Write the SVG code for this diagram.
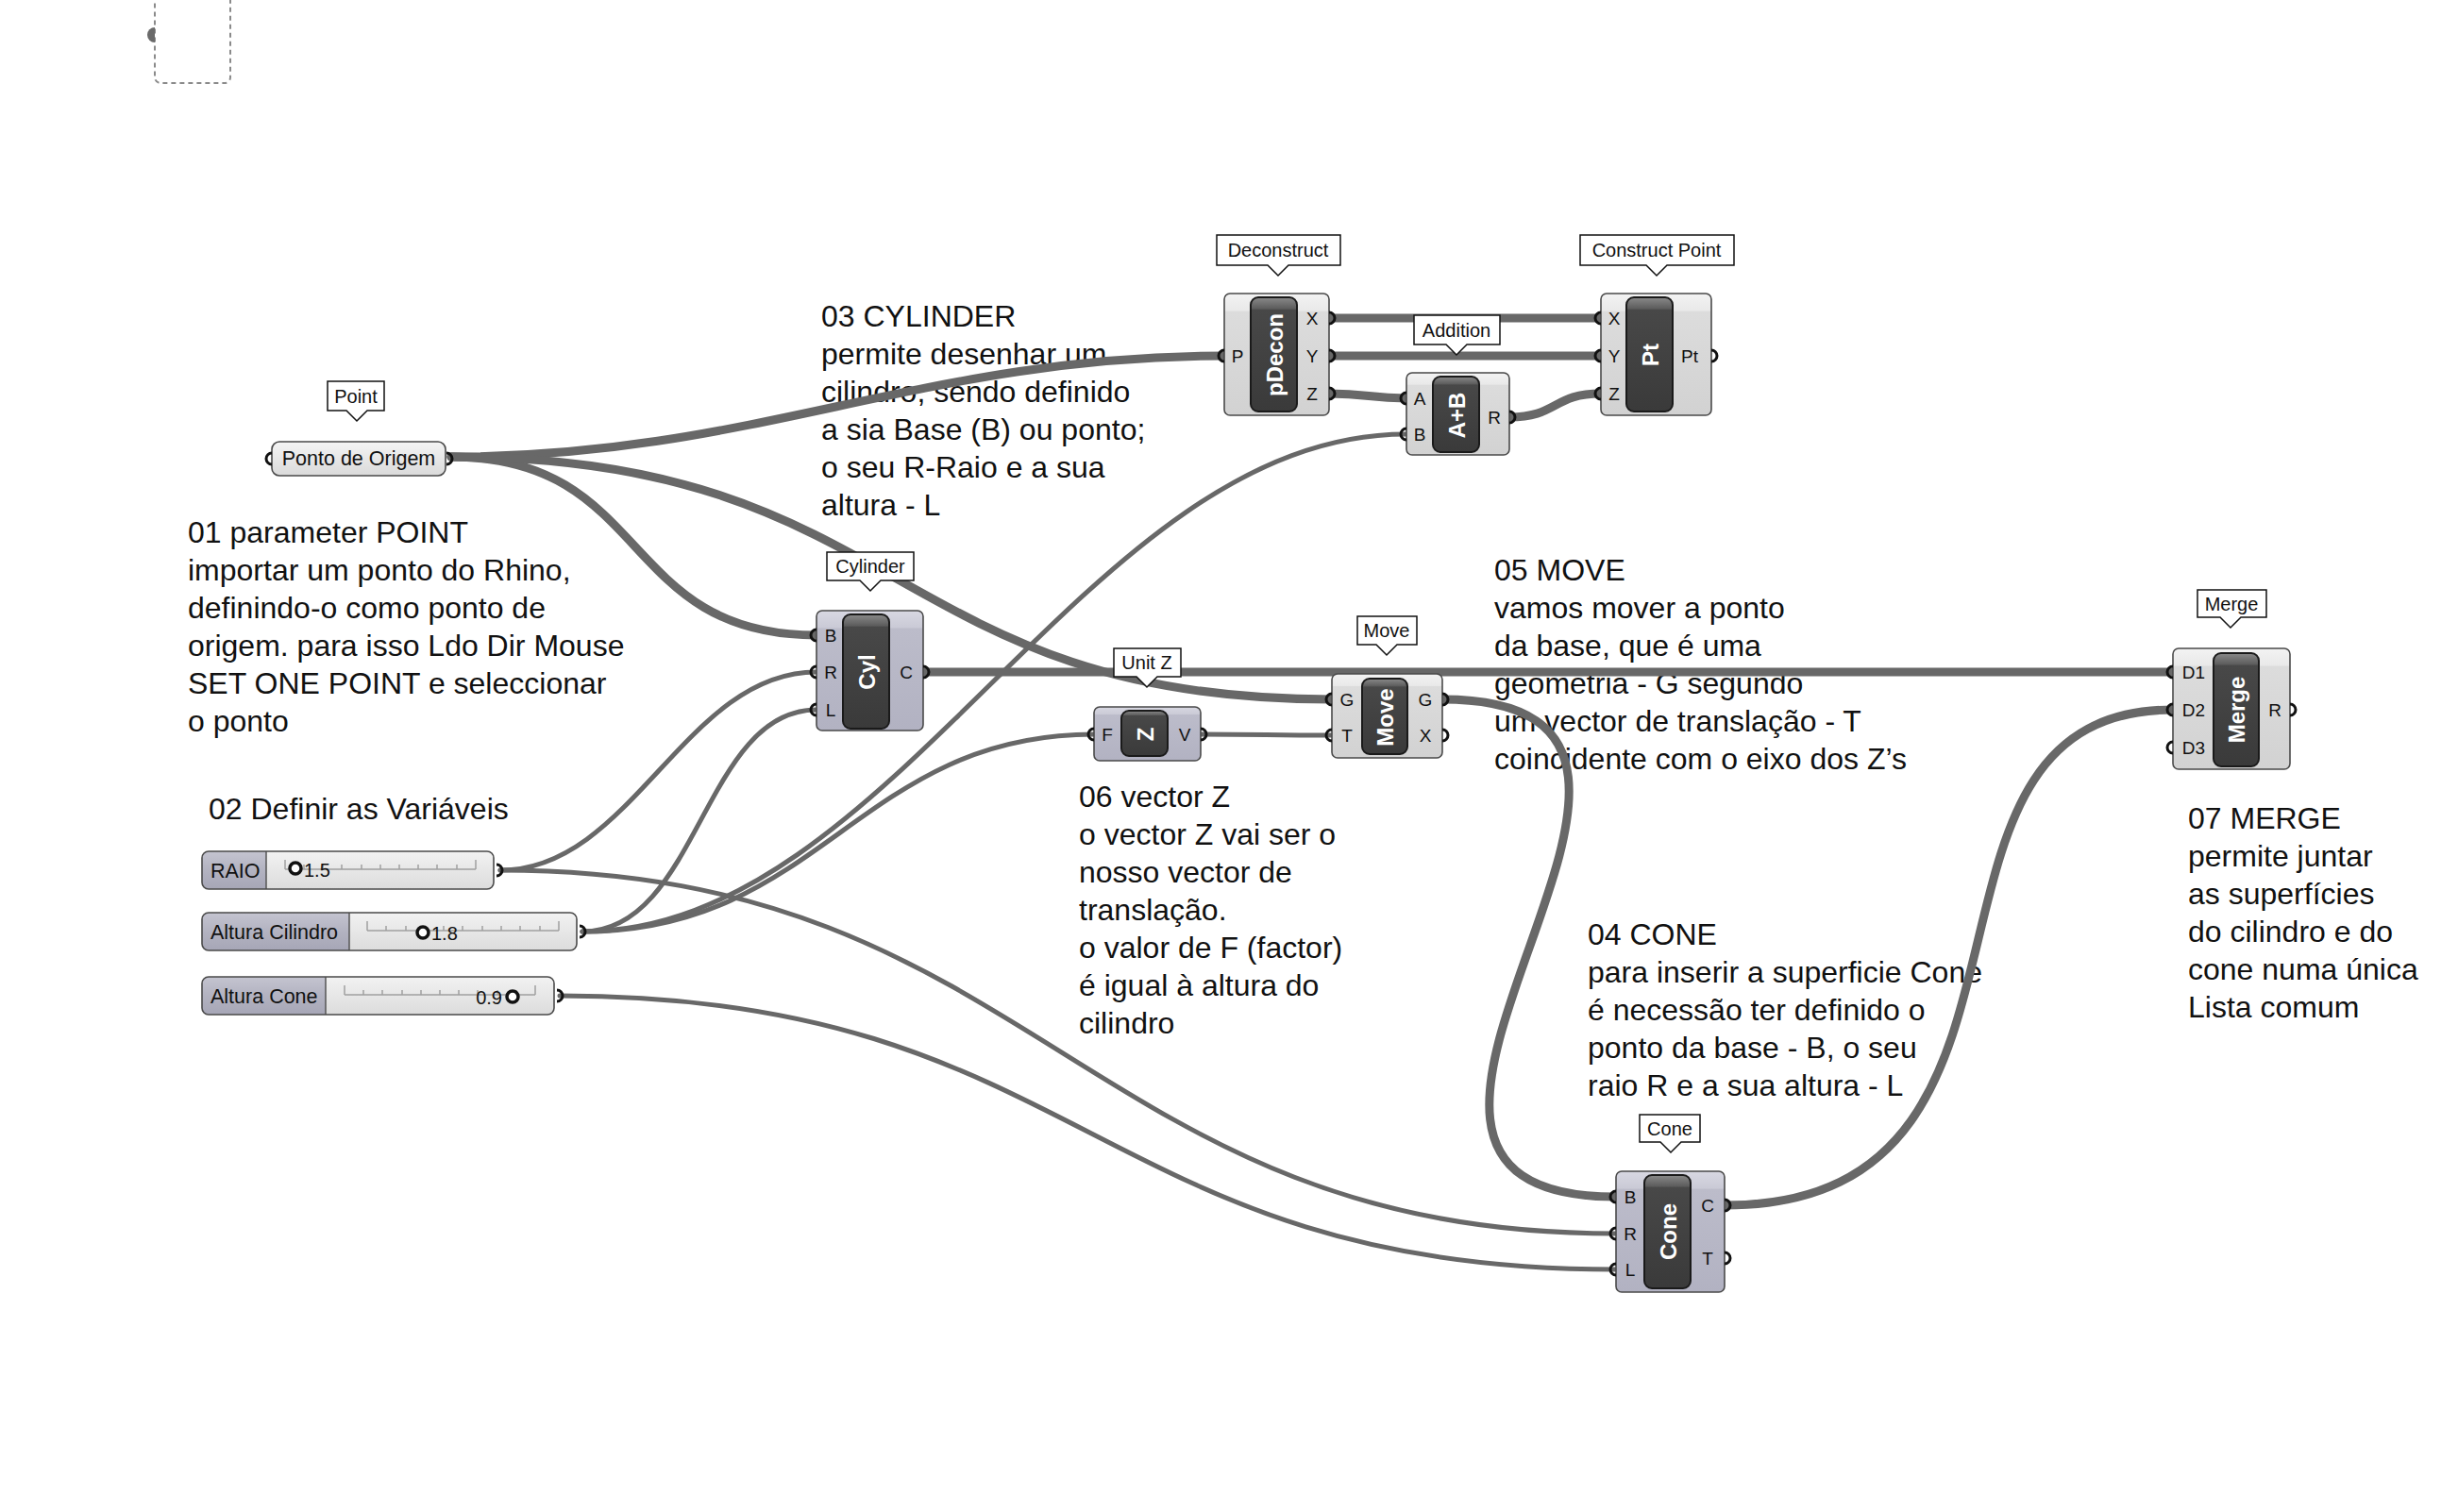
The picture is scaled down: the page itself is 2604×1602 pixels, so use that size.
<svg xmlns="http://www.w3.org/2000/svg" width="2604" height="1602" viewBox="0 0 2604 1602">
<defs>
<linearGradient id="gGrey" x1="0" y1="0" x2="0" y2="1">
<stop offset="0" stop-color="#f3f3f3"/><stop offset="0.14" stop-color="#e9e9e9"/><stop offset="0.15" stop-color="#dcdcdc"/><stop offset="1" stop-color="#d2d2d2"/>
</linearGradient>
<linearGradient id="gLav" x1="0" y1="0" x2="0" y2="1">
<stop offset="0" stop-color="#d8d8e2"/><stop offset="0.14" stop-color="#cacad6"/><stop offset="0.15" stop-color="#bcbcca"/><stop offset="1" stop-color="#b2b2c2"/>
</linearGradient>
<linearGradient id="gPill" x1="0" y1="0" x2="0" y2="1">
<stop offset="0" stop-color="#8a8a8a"/><stop offset="0.1" stop-color="#5c5c5c"/><stop offset="0.11" stop-color="#484848"/><stop offset="1" stop-color="#3a3a3a"/>
</linearGradient>
<linearGradient id="gParam" x1="0" y1="0" x2="0" y2="1">
<stop offset="0" stop-color="#f4f4f4"/><stop offset="1" stop-color="#dadada"/>
</linearGradient>
<linearGradient id="gSlLab" x1="0" y1="0" x2="0" y2="1">
<stop offset="0" stop-color="#c4c4d0"/><stop offset="0.45" stop-color="#b4b4c2"/><stop offset="1" stop-color="#a6a6b6"/>
</linearGradient>
<linearGradient id="gSlVal" x1="0" y1="0" x2="0" y2="1">
<stop offset="0" stop-color="#f2f2f2"/><stop offset="0.45" stop-color="#e8e8e8"/><stop offset="1" stop-color="#dcdcdc"/>
</linearGradient>
</defs>
<style>
.wire{fill:none;stroke:#686868;stroke-linecap:round}
.thick{stroke-width:9}
.thin{stroke-width:5}
.box{stroke:#4a4a4a;stroke-width:1.6}
.grey{fill:url(#gGrey)}
.lav{fill:url(#gLav)}
.pill{fill:url(#gPill);stroke:#1a1a1a;stroke-width:2}
.pt{font-family:"Liberation Sans",Arial,sans-serif;font-weight:bold;font-size:24px;fill:#fff;text-anchor:middle;dominant-baseline:central}
.port{font-family:"Liberation Sans",Arial,sans-serif;font-size:19px;fill:#111;text-anchor:middle;dominant-baseline:central}
.grip{fill:none;stroke:#111;stroke-width:3}
.tag{fill:#fff;stroke:#111;stroke-width:1.5}
.tagt{font-family:"Liberation Sans",Arial,sans-serif;font-size:20px;fill:#111;text-anchor:middle;dominant-baseline:central}
.note{font-family:"Liberation Sans",Arial,sans-serif;font-size:32px;fill:#111}
.sl{font-family:"Liberation Sans",Arial,sans-serif;font-size:20px;fill:#111}
.sll{font-family:"Liberation Sans",Arial,sans-serif;font-size:21.5px;fill:#111}
.track{stroke:#a0a0a0;stroke-width:1.5;fill:none}
.knob{fill:#fff;stroke:#111;stroke-width:3.5}
</style>

<rect width="2604" height="1602" fill="#ffffff"/>

<g id="empty-group">
<rect x="164" y="-20" width="80" height="108" rx="6" fill="none" stroke="#8a8a8a" stroke-width="2" stroke-dasharray="5 4"/>
<path d="M164,29 A8,8 0 0 0 164,45 Z" fill="#6a6a6a"/>
</g>

<g id="notes">
<text class="note" x="199" y="575">
<tspan x="199" y="575">01 parameter POINT</tspan>
<tspan x="199" y="615">importar um ponto do Rhino,</tspan>
<tspan x="199" y="655">definindo-o como ponto de</tspan>
<tspan x="199" y="695">origem. para isso Ldo Dir Mouse</tspan>
<tspan x="199" y="735">SET ONE POINT e seleccionar</tspan>
<tspan x="199" y="775">o ponto</tspan>
</text>
<text class="note" x="221" y="868">02 Definir as Variáveis</text>
<text class="note" x="870" y="346">
<tspan x="870" y="346">03 CYLINDER</tspan>
<tspan x="870" y="386">permite desenhar um</tspan>
<tspan x="870" y="426">cilindro, sendo definido</tspan>
<tspan x="870" y="466">a sia Base (B) ou ponto;</tspan>
<tspan x="870" y="506">o seu R-Raio e a sua</tspan>
<tspan x="870" y="546">altura - L</tspan>
</text>
<text class="note" x="1583" y="615">
<tspan x="1583" y="615">05 MOVE</tspan>
<tspan x="1583" y="655">vamos mover a ponto</tspan>
<tspan x="1583" y="695">da base, que é uma</tspan>
<tspan x="1583" y="735">geometria - G segundo</tspan>
<tspan x="1583" y="775">um vector de translação - T</tspan>
<tspan x="1583" y="815">coincidente com o eixo dos Z’s</tspan>
</text>
<text class="note" x="1143" y="855">
<tspan x="1143" y="855">06 vector Z</tspan>
<tspan x="1143" y="895">o vector Z vai ser o</tspan>
<tspan x="1143" y="935">nosso vector de</tspan>
<tspan x="1143" y="975">translação.</tspan>
<tspan x="1143" y="1015">o valor de F (factor)</tspan>
<tspan x="1143" y="1055">é igual à altura do</tspan>
<tspan x="1143" y="1095">cilindro</tspan>
</text>
<text class="note" x="1682" y="1001">
<tspan x="1682" y="1001">04 CONE</tspan>
<tspan x="1682" y="1041">para inserir a superficie Cone</tspan>
<tspan x="1682" y="1081">é necessão ter definido o</tspan>
<tspan x="1682" y="1121">ponto da base - B, o seu</tspan>
<tspan x="1682" y="1161">raio R e a sua altura - L</tspan>
</text>
<text class="note" x="2318" y="878">
<tspan x="2318" y="878">07 MERGE</tspan>
<tspan x="2318" y="918">permite juntar</tspan>
<tspan x="2318" y="958">as superfícies</tspan>
<tspan x="2318" y="998">do cilindro e do</tspan>
<tspan x="2318" y="1038">cone numa única</tspan>
<tspan x="2318" y="1078">Lista comum</tspan>
</text>
</g>

<g id="connectors">
<path class="wire thick" d="M478,484 C800,484 975,377 1297,377"/>
<path class="wire thick" d="M478,484 C690,484 655,673 865,673"/>
<path class="wire thick" d="M478,484 C960,484 940,741 1411,741"/>
<path class="wire thick" d="M1408,337 L1696,337"/>
<path class="wire thick" d="M1408,377 L1696,377"/>
<path class="wire thick" d="M1408,417 C1450,417 1450,422 1490,422"/>
<path class="wire thick" d="M1599,442 C1650,442 1645,417 1696,417"/>
<path class="wire thin" d="M617,987 C950,987 1150,460 1490,460"/>
<path class="wire thin" d="M530,922 C670,922 725,712 865,712"/>
<path class="wire thin" d="M617,987 C740,987 745,752 865,752"/>
<path class="wire thin" d="M617,987 C870,987 910,778 1159,778"/>
<path class="wire thick" d="M978,712 L2302,712"/>
<path class="wire thin" d="M1272,778 C1340,778 1343,779 1411,779"/>
<path class="wire thick" d="M1528,741 C1900,741 1340,1268 1712,1268"/>
<path class="wire thick" d="M1827,1277 C2210,1277 1990,752 2302,752"/>
<path class="wire thin" d="M530,922 C1100,922 1150,1307 1712,1307"/>
<path class="wire thin" d="M593,1055 C1150,1055 1160,1345 1712,1345"/>
</g>

<g id="node-point">
<path class="tag" d="M347,404 H407 V435 H389 L378,446 L367,435 H347 Z"/>
<text class="tagt" x="377" y="420">Point</text>
<rect x="288" y="468" width="184" height="36" rx="8" fill="url(#gParam)" stroke="#4a4a4a" stroke-width="1.6"/>
<text class="tagt" x="380" y="486" style="font-size:21.5px">Ponto de Origem</text>
<path class="grip" d="M288,480 A6,6 0 0 0 288,492"/>
<path class="grip" d="M473,480 A6,6 0 0 1 473,492"/>
</g>

<g id="node-deconstruct">
<path class="tag" d="M1289,249 H1420 V281 H1365 L1354,292 L1343,281 H1289 Z"/>
<text class="tagt" x="1354" y="265">Deconstruct</text>
<rect class="box grey" x="1297" y="311" width="111" height="129" rx="6"/>
<rect class="pill" x="1325" y="315" width="49" height="121" rx="8"/>
<text class="pt" transform="translate(1350,376) rotate(-90)">pDecon</text>
<text class="port" x="1311" y="377">P</text>
<text class="port" x="1390" y="337">X</text>
<text class="port" x="1390" y="377">Y</text>
<text class="port" x="1390" y="417">Z</text>
<path class="grip" d="M1297,371 A6,6 0 0 0 1297,383"/>
<path class="grip" d="M1408,331 A6,6 0 0 1 1408,343"/>
<path class="grip" d="M1408,371 A6,6 0 0 1 1408,383"/>
<path class="grip" d="M1408,411 A6,6 0 0 1 1408,423"/>
</g>

<g id="node-construct-point">
<path class="tag" d="M1674,249 H1837 V281 H1766 L1755,292 L1744,281 H1674 Z"/>
<text class="tagt" x="1755" y="265">Construct Point</text>
<rect class="box grey" x="1696" y="311" width="117" height="129" rx="6"/>
<rect class="pill" x="1723" y="315" width="49" height="121" rx="8"/>
<text class="pt" transform="translate(1748,376) rotate(-90)">Pt</text>
<text class="port" x="1710" y="337">X</text>
<text class="port" x="1710" y="377">Y</text>
<text class="port" x="1710" y="417">Z</text>
<text class="port" x="1790" y="377">Pt</text>
<path class="grip" d="M1696,331 A6,6 0 0 0 1696,343"/>
<path class="grip" d="M1696,371 A6,6 0 0 0 1696,383"/>
<path class="grip" d="M1696,411 A6,6 0 0 0 1696,423"/>
<path class="grip" d="M1813,371 A6,6 0 0 1 1813,383"/>
</g>

<g id="node-addition">
<path class="tag" d="M1498,334 H1589 V365 H1554 L1543,376 L1532,365 H1498 Z"/>
<text class="tagt" x="1543" y="350">Addition</text>
<rect class="box grey" x="1490" y="395" width="109" height="87" rx="6"/>
<rect class="pill" x="1518" y="399" width="49" height="80" rx="8"/>
<text class="pt" transform="translate(1543,440) rotate(-90)">A+B</text>
<text class="port" x="1504" y="422">A</text>
<text class="port" x="1504" y="460">B</text>
<text class="port" x="1583" y="442">R</text>
<path class="grip" d="M1490,416 A6,6 0 0 0 1490,428"/>
<path class="grip" d="M1490,454 A6,6 0 0 0 1490,466"/>
<path class="grip" d="M1599,436 A6,6 0 0 1 1599,448"/>
</g>

<g id="node-cylinder">
<path class="tag" d="M876,585 H968 V615 H933 L922,626 L911,615 H876 Z"/>
<text class="tagt" x="922" y="600">Cylinder</text>
<rect class="box lav" x="865" y="647" width="113" height="127" rx="6"/>
<rect class="pill" x="893" y="651" width="49" height="121" rx="8"/>
<text class="pt" transform="translate(918,712) rotate(-90)">Cyl</text>
<text class="port" x="880" y="673">B</text>
<text class="port" x="880" y="712">R</text>
<text class="port" x="880" y="752">L</text>
<text class="port" x="960" y="712">C</text>
<path class="grip" d="M865,667 A6,6 0 0 0 865,679"/>
<path class="grip" d="M865,706 A6,6 0 0 0 865,718"/>
<path class="grip" d="M865,746 A6,6 0 0 0 865,758"/>
<path class="grip" d="M978,706 A6,6 0 0 1 978,718"/>
</g>

<g id="node-unit-z">
<path class="tag" d="M1180,687 H1251 V717 H1226 L1215,728 L1204,717 H1180 Z"/>
<text class="tagt" x="1215" y="702">Unit Z</text>
<rect class="box lav" x="1159" y="749" width="113" height="57" rx="6"/>
<rect class="pill" x="1188" y="753" width="49" height="48" rx="8"/>
<text class="pt" transform="translate(1213,778) rotate(-90)">Z</text>
<text class="port" x="1173" y="778">F</text>
<text class="port" x="1255" y="778">V</text>
<path class="grip" d="M1159,772 A6,6 0 0 0 1159,784"/>
<path class="grip" d="M1272,772 A6,6 0 0 1 1272,784"/>
</g>

<g id="node-move">
<path class="tag" d="M1438,653 H1501 V683 H1480 L1469,694 L1458,683 H1438 Z"/>
<text class="tagt" x="1469" y="668">Move</text>
<rect class="box grey" x="1411" y="714" width="117" height="89" rx="6"/>
<rect class="pill" x="1443" y="719" width="48" height="80" rx="8"/>
<text class="pt" transform="translate(1467,760) rotate(-90)">Move</text>
<text class="port" x="1427" y="741">G</text>
<text class="port" x="1427" y="779">T</text>
<text class="port" x="1510" y="741">G</text>
<text class="port" x="1510" y="779">X</text>
<path class="grip" d="M1411,735 A6,6 0 0 0 1411,747"/>
<path class="grip" d="M1411,773 A6,6 0 0 0 1411,785"/>
<path class="grip" d="M1528,735 A6,6 0 0 1 1528,747"/>
<path class="grip" d="M1528,773 A6,6 0 0 1 1528,785"/>
</g>

<g id="node-merge">
<path class="tag" d="M2328,625 H2401 V654 H2374 L2363,665 L2352,654 H2328 Z"/>
<text class="tagt" x="2364" y="640">Merge</text>
<rect class="box grey" x="2302" y="687" width="124" height="128" rx="6"/>
<rect class="pill" x="2345" y="692" width="48" height="120" rx="8"/>
<text class="pt" transform="translate(2369,752) rotate(-90)">Merge</text>
<text class="port" x="2324" y="712">D1</text>
<text class="port" x="2324" y="752">D2</text>
<text class="port" x="2324" y="792">D3</text>
<text class="port" x="2410" y="752">R</text>
<path class="grip" d="M2302,706 A6,6 0 0 0 2302,718"/>
<path class="grip" d="M2302,746 A6,6 0 0 0 2302,758"/>
<path class="grip" d="M2302,786 A6,6 0 0 0 2302,798"/>
<path class="grip" d="M2426,746 A6,6 0 0 1 2426,758"/>
</g>

<g id="node-cone">
<path class="tag" d="M1737,1181 H1801 V1210 H1781 L1770,1221 L1759,1210 H1737 Z"/>
<text class="tagt" x="1769" y="1196">Cone</text>
<rect class="box lav" x="1712" y="1241" width="115" height="128" rx="6"/>
<rect class="pill" x="1742" y="1245" width="49" height="120" rx="8"/>
<text class="pt" transform="translate(1767,1305) rotate(-90)">Cone</text>
<text class="port" x="1727" y="1268">B</text>
<text class="port" x="1727" y="1307">R</text>
<text class="port" x="1727" y="1345">L</text>
<text class="port" x="1809" y="1277">C</text>
<text class="port" x="1809" y="1333">T</text>
<path class="grip" d="M1712,1262 A6,6 0 0 0 1712,1274"/>
<path class="grip" d="M1712,1301 A6,6 0 0 0 1712,1313"/>
<path class="grip" d="M1712,1339 A6,6 0 0 0 1712,1351"/>
<path class="grip" d="M1827,1271 A6,6 0 0 1 1827,1283"/>
<path class="grip" d="M1827,1327 A6,6 0 0 1 1827,1339"/>
</g>

<g id="slider-raio">
<rect x="214" y="902" width="309" height="40" rx="7" fill="url(#gSlVal)"/>
<path d="M221,902 H282 V942 H221 A7,7 0 0 1 214,935 V909 A7,7 0 0 1 221,902 Z" fill="url(#gSlLab)"/>
<line x1="282" y1="902" x2="282" y2="942" stroke="#555" stroke-width="1.5"/>
<rect x="214" y="902" width="309" height="40" rx="7" fill="none" stroke="#4a4a4a" stroke-width="1.6"/>
<text class="sll" x="223" y="930">RAIO</text>
<path class="track" d="M302,921 H504 M302,911 V921 M322,916 V921 M342,916 V921 M362,916 V921 M383,916 V921 M403,916 V921 M423,916 V921 M443,916 V921 M463,916 V921 M484,916 V921 M504,911 V921"/>
<circle class="knob" cx="313" cy="920" r="6"/>
<text class="sl" x="322" y="929">1.5</text>
<path class="grip" d="M526,916 A6,6 0 0 1 526,928"/>
</g>

<g id="slider-altura-cilindro">
<rect x="214" y="967" width="397" height="40" rx="7" fill="url(#gSlVal)"/>
<path d="M221,967 H370 V1007 H221 A7,7 0 0 1 214,1000 V974 A7,7 0 0 1 221,967 Z" fill="url(#gSlLab)"/>
<line x1="370" y1="967" x2="370" y2="1007" stroke="#555" stroke-width="1.5"/>
<rect x="214" y="967" width="397" height="40" rx="7" fill="none" stroke="#4a4a4a" stroke-width="1.6"/>
<text class="sll" x="223" y="995">Altura Cilindro</text>
<path class="track" d="M389,986 H592 M389,976 V986 M409,981 V986 M430,981 V986 M450,981 V986 M470,981 V986 M490,981 V986 M511,981 V986 M531,981 V986 M551,981 V986 M572,981 V986 M592,976 V986"/>
<circle class="knob" cx="448" cy="988" r="6"/>
<text class="sl" x="457" y="996">1.8</text>
<path class="grip" d="M614,981 A6,6 0 0 1 614,993"/>
</g>

<g id="slider-altura-cone">
<rect x="214" y="1035" width="373" height="40" rx="7" fill="url(#gSlVal)"/>
<path d="M221,1035 H345 V1075 H221 A7,7 0 0 1 214,1068 V1042 A7,7 0 0 1 221,1035 Z" fill="url(#gSlLab)"/>
<line x1="345" y1="1035" x2="345" y2="1075" stroke="#555" stroke-width="1.5"/>
<rect x="214" y="1035" width="373" height="40" rx="7" fill="none" stroke="#4a4a4a" stroke-width="1.6"/>
<text class="sll" x="223" y="1063">Altura Cone</text>
<path class="track" d="M365,1054 H567 M365,1044 V1054 M385,1049 V1054 M405,1049 V1054 M426,1049 V1054 M446,1049 V1054 M466,1049 V1054 M486,1049 V1054 M506,1049 V1054 M527,1049 V1054 M547,1049 V1054 M567,1044 V1054"/>
<circle class="knob" cx="543" cy="1056" r="6"/>
<text class="sl" x="532" y="1064" text-anchor="end">0.9</text>
<path class="grip" d="M590,1049 A6,6 0 0 1 590,1061"/>
</g>
</svg>
